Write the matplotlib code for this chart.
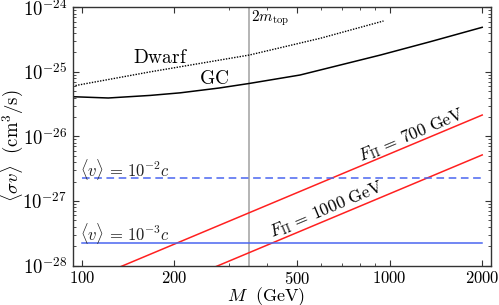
import numpy as np
import matplotlib
matplotlib.use("Agg")
import matplotlib.pyplot as plt
from matplotlib.ticker import FixedLocator, FuncFormatter, NullFormatter, LogLocator

plt.rcParams['mathtext.fontset'] = 'cm'
plt.rcParams['font.family'] = 'serif'
plt.rcParams['font.serif'] = ['cmr10', 'DejaVu Serif']
plt.rcParams['axes.formatter.use_mathtext'] = True

# ---- data ----
gc_M = [93.5, 122, 167, 209, 280, 350, 512, 935, 1356, 2000]
gc_sv = [10**-25.385, 10**-25.405, 10**-25.365, 10**-25.325, 10**-25.25, 10**-25.18,
         10**-25.049, 10**-24.739, 10**-24.533, 10**-24.31]

dwarf_M = [93.5, 167, 350, 596, 956]
dwarf_sv = [10**-25.22, 10**-25.0, 10**-24.74, 10**-24.48, 10**-24.212]

fpi_M = [100, 2000]
fpi700_sv = [10**-28.271, 10**-25.669]
fpi1000_sv = [10**-28.889, 10**-26.287]

v_M = [100, 2000]
v2_sv = [2.25e-27, 2.25e-27]
v3_sv = [2.27e-28, 2.27e-28]

m_2top = 350

x_ticks = [100, 200, 500, 1000, 2000]

# ---- figure ----
W, H = 499, 305
L, R, T, B = 72.7, 490.5, 7.3, 265.5
fig = plt.figure(figsize=(W / 100, H / 100), dpi=100)
ax = fig.add_axes([L / W, 1 - B / H, (R - L) / W, (B - T) / H])
ax.set_xscale('log')
ax.set_yscale('log')
ax.set_xlim(93.5, 2128)
ax.set_ylim(1e-28, 1e-24)


def px2M(px):
    return 10 ** (2 + (px - 81.7) / 307.5)


def py2sv(py):
    return 10 ** (-24 - (py - T) / 64.55)


red = '#ff2020'
blue = '#4a66f0'

ax.axvline(m_2top, color='#a8a8a8', lw=1.2, zorder=1)
ax.plot(gc_M, gc_sv, color='black', lw=1.1)
ax.plot(dwarf_M, dwarf_sv, color='black', lw=1.0, ls=(0, (1, 1)))
ax.plot(fpi_M, fpi700_sv, color=red, lw=1.1)
ax.plot(fpi_M, fpi1000_sv, color=red, lw=1.1)
ax.plot(v_M, v2_sv, color=blue, lw=1.1, ls=(0, (5, 3)))
ax.plot(v_M, v3_sv, color=blue, lw=1.1)

# texts
ax.text(px2M(160.5), py2sv(58), r'$\mathrm{Dwarf}$', fontsize=14, ha='center', va='center')
ax.text(px2M(214), py2sv(79), r'$\mathrm{GC}$', fontsize=14, ha='center', va='center')
ax.text(px2M(251), py2sv(18.5), r'$2m_{\mathrm{top}}$', fontsize=11, ha='left', va='center')
ax.text(px2M(80), py2sv(169.5), r'$\langle v\rangle \,=\, 10^{-2}c$', fontsize=12,
        ha='left', va='center', color='#222222')
ax.text(px2M(80), py2sv(233), r'$\langle v\rangle \,=\, 10^{-3}c$', fontsize=12,
        ha='left', va='center', color='#222222')
ax.text(px2M(411), py2sv(134.5), r'$F_{\Pi} \,=\, 700\ \mathrm{GeV}$', fontsize=12.5,
        ha='center', va='center', rotation=22.8)
ax.text(px2M(326), py2sv(210), r'$F_{\Pi} \,=\, 1000\ \mathrm{GeV}$', fontsize=12.5,
        ha='center', va='center', rotation=22.8)

# ticks
ax.xaxis.set_major_locator(FixedLocator(x_ticks))
ax.xaxis.set_major_formatter(FuncFormatter(lambda v, p: r'$%d$' % round(v)))
ax.xaxis.set_minor_locator(LogLocator(base=10, subs=np.arange(1, 10)))
ax.xaxis.set_minor_formatter(NullFormatter())
ax.yaxis.set_major_locator(LogLocator(base=10, numticks=10))
ax.yaxis.set_major_formatter(FuncFormatter(lambda v, p: r'$10^{%d}$' % round(np.log10(v))))
ax.yaxis.set_minor_locator(LogLocator(base=10, subs=np.arange(2, 10), numticks=20))
ax.yaxis.set_minor_formatter(NullFormatter())
ax.tick_params(which='both', direction='in', top=True, right=True, color='#333333')
ax.tick_params(which='major', length=4, width=0.8, pad=4)
ax.tick_params(which='minor', length=2.2, width=0.6)
ax.tick_params(axis='x', which='major', labelsize=12, pad=3)
ax.tick_params(axis='y', which='major', labelsize=13.5)
for s in ax.spines.values():
    s.set_color('#333333')
    s.set_linewidth(1.0)

ax.set_xlabel(r'$M\ \ (\mathrm{GeV})$', fontsize=13, labelpad=0)
ax.set_ylabel(r'$\langle\sigma v\rangle\ \ (\mathrm{cm}^3/\mathrm{s})$', fontsize=13.5, labelpad=0)
ax.xaxis.set_label_coords((266.5 - L) / (R - L), -(285 - B) / (B - T))
ax.yaxis.set_label_coords(-(L - 25) / (R - L), (B - 146) / (B - T))

fig.savefig('out.png', dpi=100)
